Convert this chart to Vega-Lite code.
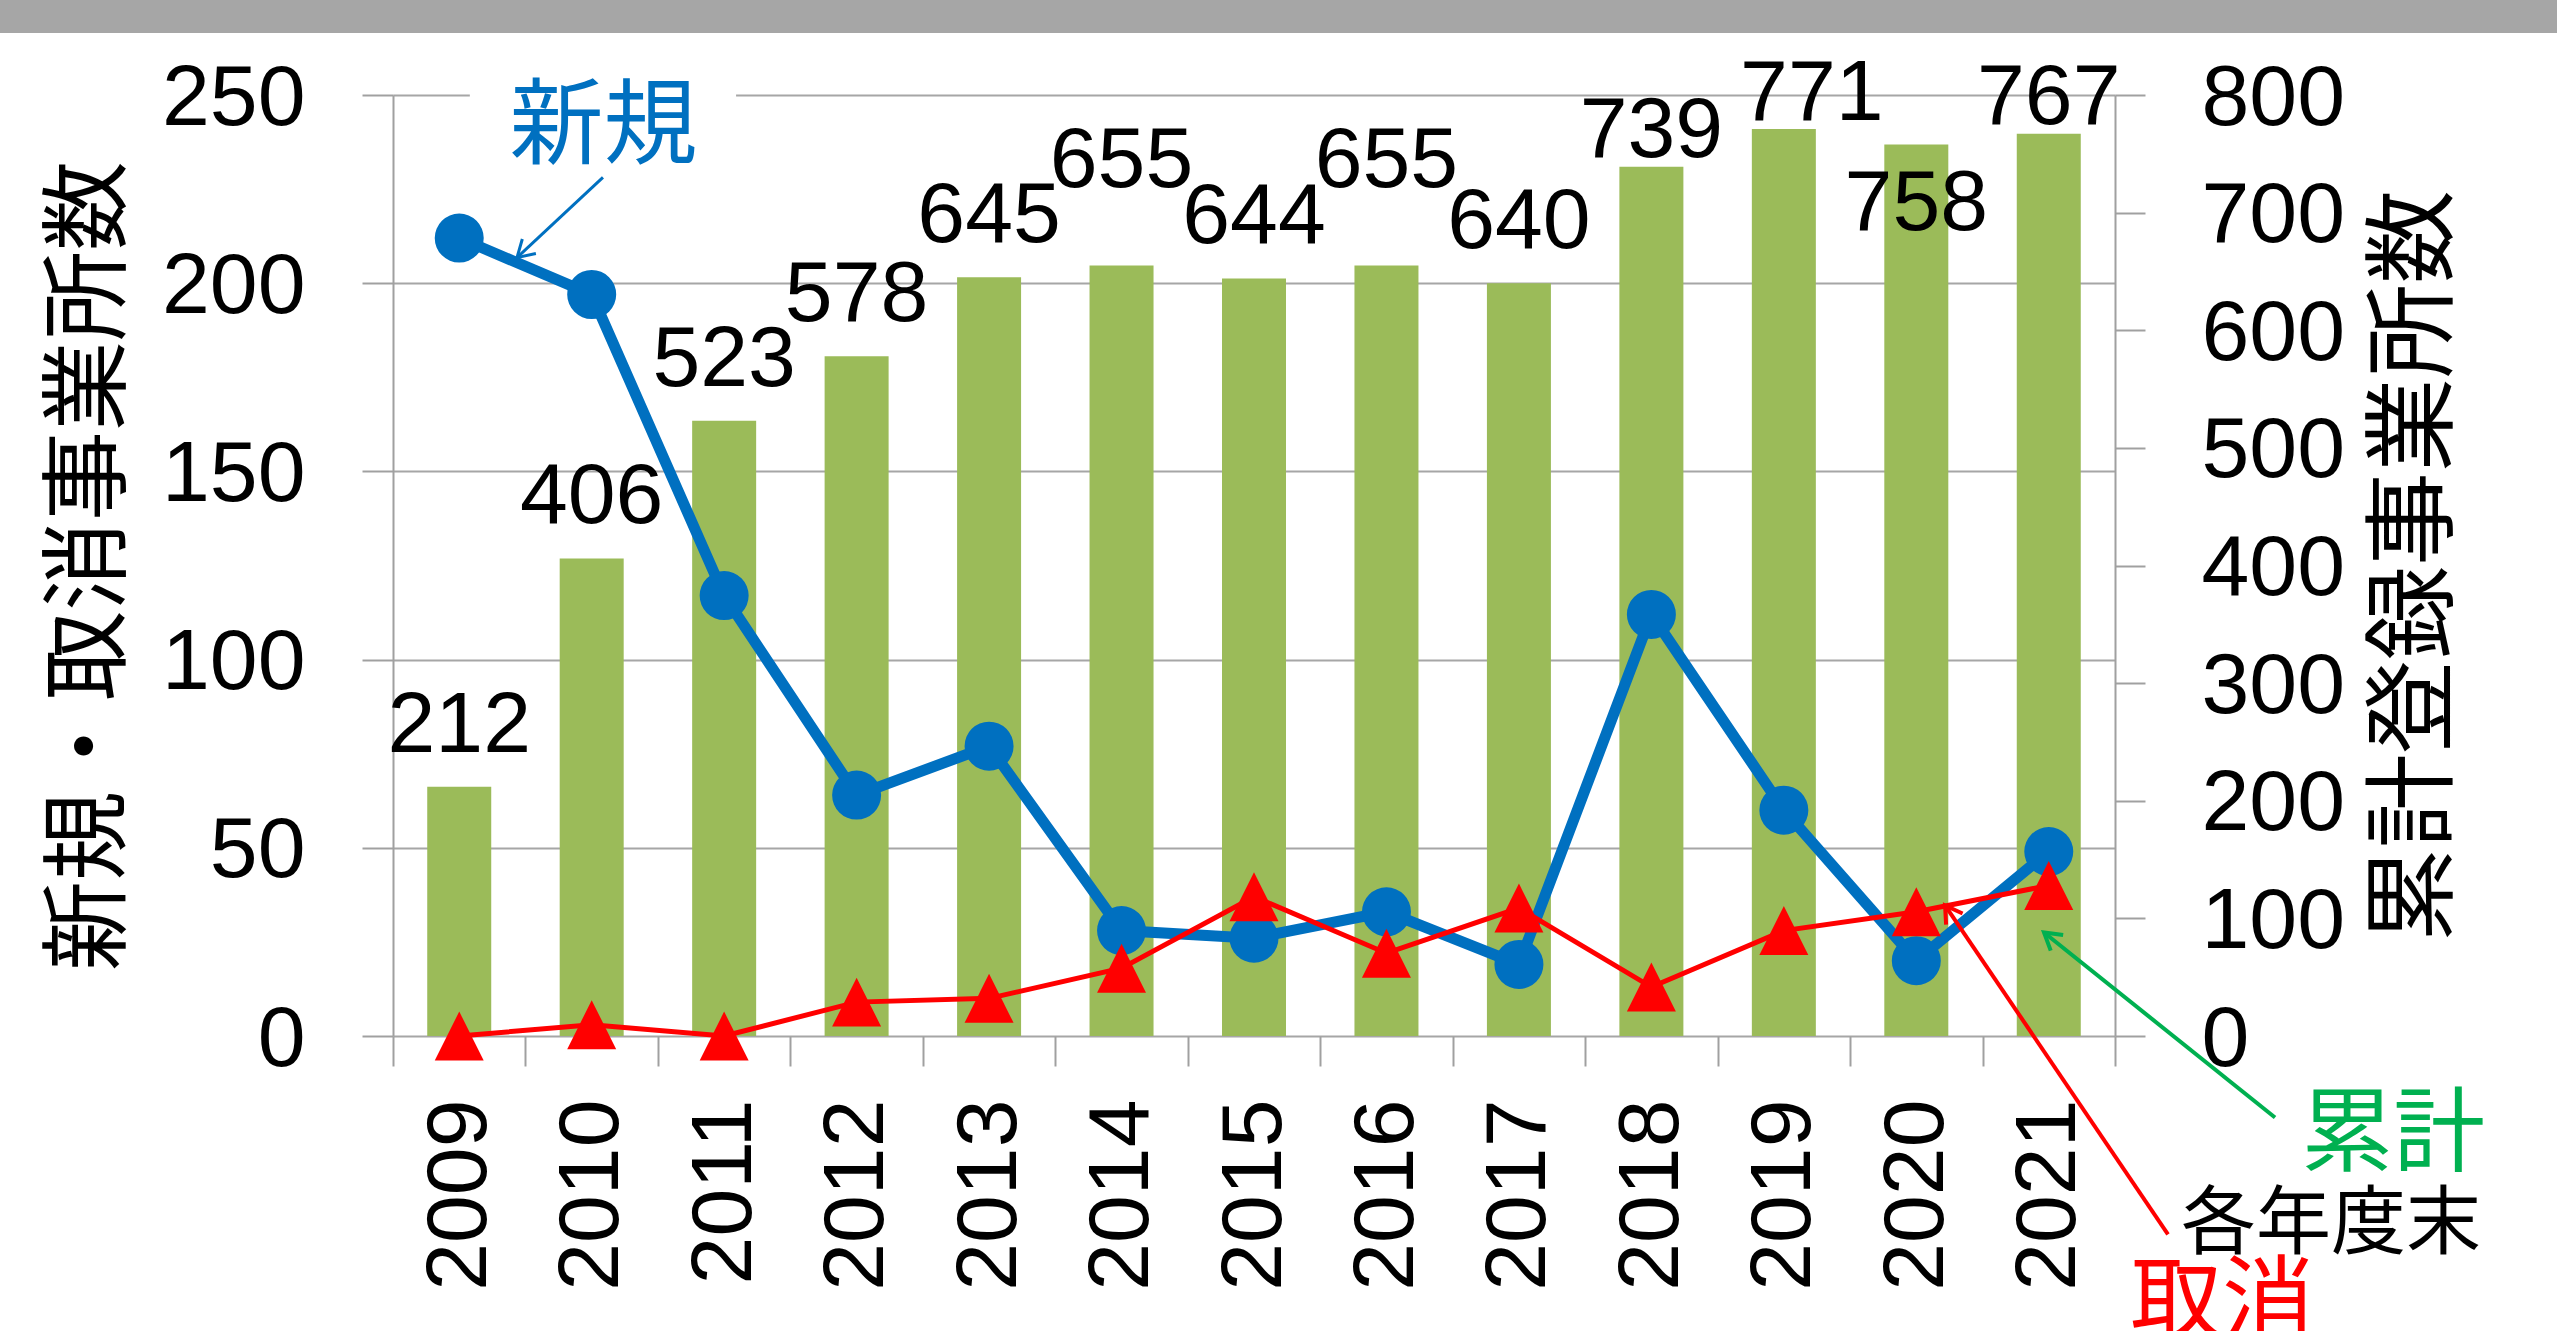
{
  "$schema": "https://vega.github.io/schema/vega-lite/v6.json",
  "width": 1722,
  "height": 941,
  "autosize": {"type": "none"},
  "padding": {"left": 393, "top": 95, "right": 442, "bottom": 295},
  "background": "white",
  "config": {
    "view": {"stroke": null},
    "axis": {
      "labelFont": "Liberation Sans",
      "labelFontSize": 86,
      "labelColor": "#000000",
      "titleFont": "Noto Sans CJK JP",
      "titleFontWeight": "normal",
      "titleColor": "#000000",
      "domainColor": "#a0a0a0",
      "domainWidth": 2,
      "tickColor": "#a0a0a0",
      "tickWidth": 2,
      "gridColor": "#a6a6a6",
      "gridWidth": 2
    },
    "text": {"font": "Liberation Sans"}
  },
  "data": {
    "values": [
      {"year": 2009, "new": 212, "cancel": 0, "total": 212},
      {"year": 2010, "new": 197, "cancel": 3, "total": 406},
      {"year": 2011, "new": 117, "cancel": 0, "total": 523},
      {"year": 2012, "new": 64, "cancel": 9, "total": 578},
      {"year": 2013, "new": 77, "cancel": 10, "total": 645},
      {"year": 2014, "new": 28, "cancel": 18, "total": 655},
      {"year": 2015, "new": 26, "cancel": 37, "total": 644},
      {"year": 2016, "new": 33, "cancel": 22, "total": 655},
      {"year": 2017, "new": 19, "cancel": 34, "total": 640},
      {"year": 2018, "new": 112, "cancel": 13, "total": 739},
      {"year": 2019, "new": 60, "cancel": 28, "total": 771},
      {"year": 2020, "new": 20, "cancel": 33, "total": 758},
      {"year": 2021, "new": 49, "cancel": 40, "total": 767}
    ]
  },
  "layer": [
    {
      "layer": [
        {
          "mark": {"type": "bar", "color": "#9BBB59", "width": 64},
          "encoding": {
            "x": {
              "field": "year", "type": "quantitative",
              "scale": {"domain": [2008.5, 2021.5], "nice": false, "zero": false, "padding": 0},
              "axis": {
                "orient": "bottom", "title": null,
                "values": [2008.5, 2009, 2009.5, 2010, 2010.5, 2011, 2011.5, 2012, 2012.5, 2013, 2013.5, 2014, 2014.5, 2015, 2015.5, 2016, 2016.5, 2017, 2017.5, 2018, 2018.5, 2019, 2019.5, 2020, 2020.5, 2021, 2021.5],
                "labelExpr": "datum.value % 1 === 0 ? format(datum.value, 'd') : ''",
                "labelAngle": -90,
                "labelPadding": 33,
                "labelLimit": 0,
                "labelOverlap": false,
                "labelFlush": false,
                "labelBound": false,
                "tickSize": 30,
                "tickOpacity": {"condition": {"test": "datum.value % 1 !== 0", "value": 1}, "value": 0},
                "domain": false,
                "grid": false
              }
            },
            "y": {
              "field": "total", "type": "quantitative",
              "scale": {"domain": [0, 800], "nice": false},
              "axis": {
                "orient": "right",
                "title": "累計登録事業所数",
                "values": [0, 100, 200, 300, 400, 500, 600, 700, 800],
                "grid": false,
                "tickSize": 30,
                "labelPadding": 56,
                "labelOffset": 3,
                "titleFontSize": 94,
                "titleAngle": 270,
                "titleBaseline": "top",
                "titlePadding": 55
              }
            }
          }
        },
        {
          "transform": [{"filter": {"field": "year", "oneOf": [2009, 2010, 2011, 2012, 2013, 2015, 2017]}}],
          "mark": {"type": "text", "fontSize": 86, "color": "#000000", "align": "center", "baseline": "middle", "dy": -61},
          "encoding": {
            "x": {"field": "year", "type": "quantitative", "scale": {"domain": [2008.5, 2021.5], "nice": false, "zero": false, "padding": 0}},
            "y": {"field": "total", "type": "quantitative", "scale": {"domain": [0, 800], "nice": false}},
            "text": {"field": "total", "type": "quantitative"}
          }
        },
        {
          "transform": [{"filter": {"field": "year", "oneOf": [2014, 2016]}}],
          "mark": {"type": "text", "fontSize": 86, "color": "#000000", "align": "center", "baseline": "middle", "dy": -105},
          "encoding": {
            "x": {"field": "year", "type": "quantitative", "scale": {"domain": [2008.5, 2021.5], "nice": false, "zero": false, "padding": 0}},
            "y": {"field": "total", "type": "quantitative", "scale": {"domain": [0, 800], "nice": false}},
            "text": {"field": "total", "type": "quantitative"}
          }
        },
        {
          "transform": [{"filter": {"field": "year", "oneOf": [2018, 2021]}}],
          "mark": {"type": "text", "fontSize": 86, "color": "#000000", "align": "center", "baseline": "middle", "dy": -36},
          "encoding": {
            "x": {"field": "year", "type": "quantitative", "scale": {"domain": [2008.5, 2021.5], "nice": false, "zero": false, "padding": 0}},
            "y": {"field": "total", "type": "quantitative", "scale": {"domain": [0, 800], "nice": false}},
            "text": {"field": "total", "type": "quantitative"}
          }
        },
        {
          "transform": [{"filter": {"field": "year", "oneOf": [2019]}}],
          "mark": {"type": "text", "fontSize": 86, "color": "#000000", "align": "center", "baseline": "middle", "dy": -35, "dx": 28},
          "encoding": {
            "x": {"field": "year", "type": "quantitative", "scale": {"domain": [2008.5, 2021.5], "nice": false, "zero": false, "padding": 0}},
            "y": {"field": "total", "type": "quantitative", "scale": {"domain": [0, 800], "nice": false}},
            "text": {"field": "total", "type": "quantitative"}
          }
        },
        {
          "transform": [{"filter": {"field": "year", "oneOf": [2020]}}],
          "mark": {"type": "text", "fontSize": 86, "color": "#000000", "align": "center", "baseline": "middle", "dy": 60},
          "encoding": {
            "x": {"field": "year", "type": "quantitative", "scale": {"domain": [2008.5, 2021.5], "nice": false, "zero": false, "padding": 0}},
            "y": {"field": "total", "type": "quantitative", "scale": {"domain": [0, 800], "nice": false}},
            "text": {"field": "total", "type": "quantitative"}
          }
        }
      ]
    },
    {
      "layer": [
        {
          "data": {"values": [{}]},
          "mark": {"type": "rect", "color": "#a6a6a6"},
          "encoding": {
            "x": {"datum": 2005, "type": "quantitative", "scale": {"domain": [2008.5, 2021.5], "nice": false, "zero": false, "padding": 0}},
            "x2": {"datum": 2025},
            "y": {"datum": 266.5, "type": "quantitative", "scale": {"domain": [0, 250], "nice": false}},
            "y2": {"datum": 280}
          }
        },
        {
          "data": {"values": [{}]},
          "mark": {"type": "rect", "color": "#ffffff"},
          "encoding": {
            "x": {"datum": 2009.08, "type": "quantitative", "scale": {"domain": [2008.5, 2021.5], "nice": false, "zero": false, "padding": 0}},
            "x2": {"datum": 2011.09},
            "y": {"datum": 246, "type": "quantitative", "scale": {"domain": [0, 250], "nice": false}},
            "y2": {"datum": 254}
          }
        },
        {
          "mark": {"type": "line", "color": "#0070C0", "strokeWidth": 11},
          "encoding": {
            "x": {"field": "year", "type": "quantitative", "scale": {"domain": [2008.5, 2021.5], "nice": false, "zero": false, "padding": 0}},
            "y": {
              "field": "new", "type": "quantitative",
              "scale": {"domain": [0, 250], "nice": false},
              "axis": {
                "orient": "left",
                "title": "新規・取消事業所数",
                "values": [0, 50, 100, 150, 200, 250],
                "grid": true,
                "tickSize": 31,
                "labelPadding": 57,
                "labelOffset": 3,
                "titleFontSize": 90,
                "titlePadding": 57
              }
            }
          }
        },
        {
          "mark": {"type": "point", "shape": "circle", "filled": true, "size": 2400, "color": "#0070C0", "opacity": 1},
          "encoding": {
            "x": {"field": "year", "type": "quantitative", "scale": {"domain": [2008.5, 2021.5], "nice": false, "zero": false, "padding": 0}},
            "y": {"field": "new", "type": "quantitative", "scale": {"domain": [0, 250], "nice": false}}
          }
        },
        {
          "mark": {"type": "line", "color": "#FF0000", "strokeWidth": 5},
          "encoding": {
            "x": {"field": "year", "type": "quantitative", "scale": {"domain": [2008.5, 2021.5], "nice": false, "zero": false, "padding": 0}},
            "y": {"field": "cancel", "type": "quantitative", "scale": {"domain": [0, 250], "nice": false}}
          }
        },
        {
          "mark": {"type": "point", "shape": "M0,-1L1,1L-1,1Z", "filled": true, "size": 2400, "color": "#FF0000", "opacity": 1},
          "encoding": {
            "x": {"field": "year", "type": "quantitative", "scale": {"domain": [2008.5, 2021.5], "nice": false, "zero": false, "padding": 0}},
            "y": {"field": "cancel", "type": "quantitative", "scale": {"domain": [0, 250], "nice": false}}
          }
        },
        {
          "data": {"values": [{}]},
          "mark": {"type": "text", "text": "新規", "font": "Noto Sans CJK JP", "fontSize": 94, "color": "#0070C0", "align": "center", "baseline": "middle"},
          "encoding": {
            "x": {"datum": 2010.09, "type": "quantitative", "scale": {"domain": [2008.5, 2021.5], "nice": false, "zero": false, "padding": 0}},
            "y": {"datum": 241, "type": "quantitative", "scale": {"domain": [0, 250], "nice": false}}
          }
        },
        {
          "data": {"values": [{}]},
          "mark": {"type": "rule", "color": "#0070C0", "strokeWidth": 3},
          "encoding": {
            "x": {"datum": 2010.085, "type": "quantitative", "scale": {"domain": [2008.5, 2021.5], "nice": false, "zero": false, "padding": 0}},
            "x2": {"datum": 2009.436},
            "y": {"datum": 228.1, "type": "quantitative", "scale": {"domain": [0, 250], "nice": false}},
            "y2": {"datum": 206.8}
          }
        },
        {
          "data": {"values": [{}]},
          "mark": {"type": "point", "shape": "M-1,-0.6L0,0L-1,0.6", "filled": false, "size": 1100, "strokeWidth": 3, "color": "#0070C0", "opacity": 1, "angle": 137},
          "encoding": {
            "x": {"datum": 2009.436, "type": "quantitative", "scale": {"domain": [2008.5, 2021.5], "nice": false, "zero": false, "padding": 0}},
            "y": {"datum": 206.8, "type": "quantitative", "scale": {"domain": [0, 250], "nice": false}}
          }
        },
        {
          "data": {"values": [{}]},
          "mark": {"type": "rule", "color": "#00B050", "strokeWidth": 4},
          "encoding": {
            "x": {"datum": 2022.708, "type": "quantitative", "scale": {"domain": [2008.5, 2021.5], "nice": false, "zero": false, "padding": 0}},
            "x2": {"datum": 2020.964},
            "y": {"datum": -21.65, "type": "quantitative", "scale": {"domain": [0, 250], "nice": false}},
            "y2": {"datum": 27.5}
          }
        },
        {
          "data": {"values": [{}]},
          "mark": {"type": "point", "shape": "M-1,-0.6L0,0L-1,0.6", "filled": false, "size": 1100, "strokeWidth": 4, "color": "#00B050", "opacity": 1, "angle": 218.7},
          "encoding": {
            "x": {"datum": 2020.964, "type": "quantitative", "scale": {"domain": [2008.5, 2021.5], "nice": false, "zero": false, "padding": 0}},
            "y": {"datum": 27.5, "type": "quantitative", "scale": {"domain": [0, 250], "nice": false}}
          }
        },
        {
          "data": {"values": [{}]},
          "mark": {"type": "rule", "color": "#FF0000", "strokeWidth": 4},
          "encoding": {
            "x": {"datum": 2021.9, "type": "quantitative", "scale": {"domain": [2008.5, 2021.5], "nice": false, "zero": false, "padding": 0}},
            "x2": {"datum": 2020.217},
            "y": {"datum": -52.7, "type": "quantitative", "scale": {"domain": [0, 250], "nice": false}},
            "y2": {"datum": 34.7}
          }
        },
        {
          "data": {"values": [{}]},
          "mark": {"type": "point", "shape": "M-1,-0.6L0,0L-1,0.6", "filled": false, "size": 1100, "strokeWidth": 4, "color": "#FF0000", "opacity": 1, "angle": 235.9},
          "encoding": {
            "x": {"datum": 2020.217, "type": "quantitative", "scale": {"domain": [2008.5, 2021.5], "nice": false, "zero": false, "padding": 0}},
            "y": {"datum": 34.7, "type": "quantitative", "scale": {"domain": [0, 250], "nice": false}}
          }
        },
        {
          "data": {"values": [{}]},
          "mark": {"type": "text", "text": "累計", "font": "Noto Sans CJK JP", "fontSize": 92, "color": "#00B050", "align": "center", "baseline": "middle"},
          "encoding": {
            "x": {"datum": 2023.6, "type": "quantitative", "scale": {"domain": [2008.5, 2021.5], "nice": false, "zero": false, "padding": 0}},
            "y": {"datum": -26.7, "type": "quantitative", "scale": {"domain": [0, 250], "nice": false}}
          }
        },
        {
          "data": {"values": [{}]},
          "mark": {"type": "text", "text": "各年度末", "font": "Noto Sans CJK JP", "fontSize": 75, "color": "#000000", "align": "center", "baseline": "middle"},
          "encoding": {
            "x": {"datum": 2023.13, "type": "quantitative", "scale": {"domain": [2008.5, 2021.5], "nice": false, "zero": false, "padding": 0}},
            "y": {"datum": -50.1, "type": "quantitative", "scale": {"domain": [0, 250], "nice": false}}
          }
        },
        {
          "data": {"values": [{}]},
          "mark": {"type": "text", "text": "取消", "font": "Noto Sans CJK JP", "fontSize": 92, "color": "#FF0000", "align": "center", "baseline": "middle"},
          "encoding": {
            "x": {"datum": 2022.31, "type": "quantitative", "scale": {"domain": [2008.5, 2021.5], "nice": false, "zero": false, "padding": 0}},
            "y": {"datum": -71.3, "type": "quantitative", "scale": {"domain": [0, 250], "nice": false}}
          }
        }
      ]
    }
  ],
  "resolve": {"scale": {"y": "independent"}}
}
